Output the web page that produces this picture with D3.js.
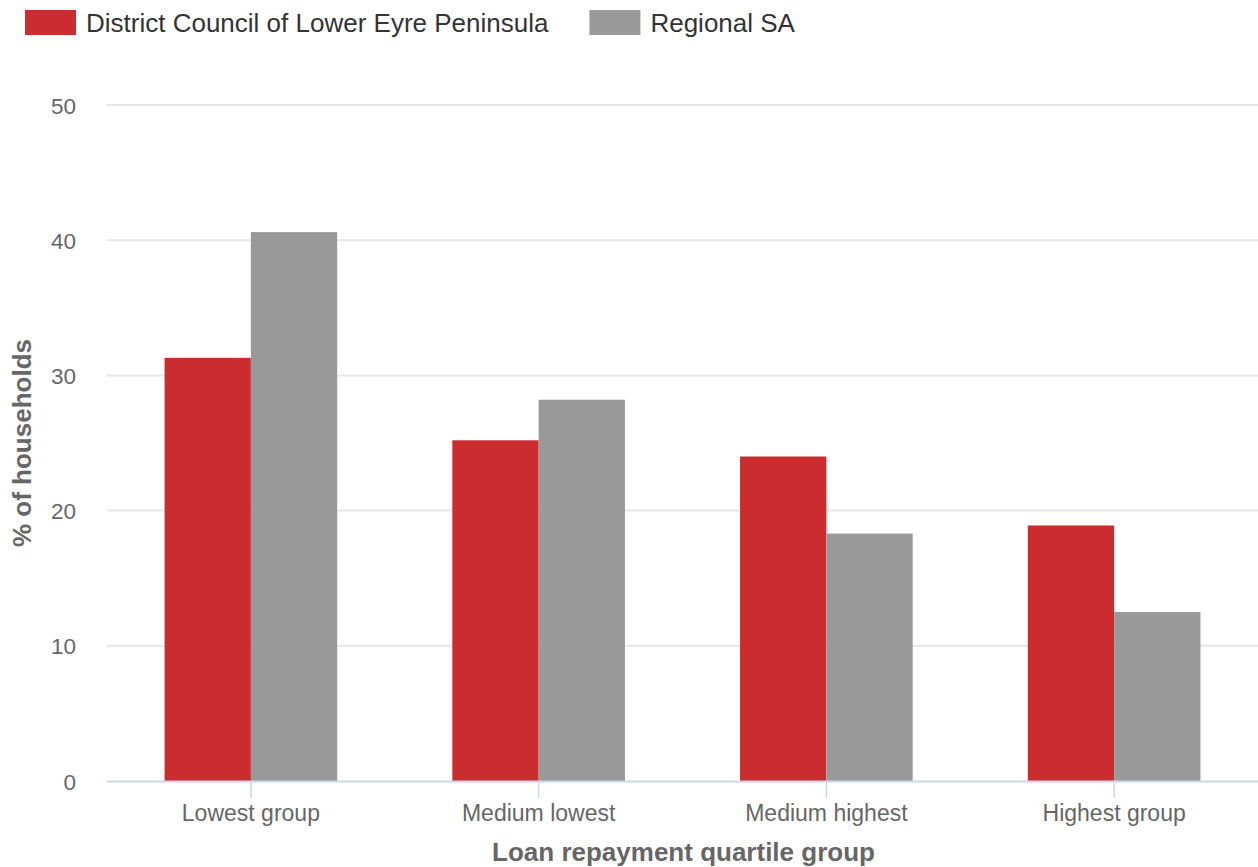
<!DOCTYPE html>
<html>
<head>
<meta charset="utf-8">
<script src="https://cdn.jsdelivr.net/npm/d3@7"></script>
<style>
  html, body { margin: 0; padding: 0; background: #ffffff; }
  svg { display: block; font-family: "Liberation Sans", Arial, sans-serif; }
</style>
</head>
<body>
<svg id="chart" width="1258" height="867"></svg>
<script>
// ---- Data ----
const categories = ["Lowest group", "Medium lowest", "Medium highest", "Highest group"];
const seriesNames = ["District Council of Lower Eyre Peninsula", "Regional SA"];
const districtValues = [31.3, 25.2, 24.0, 18.9];
const regionalValues = [40.6, 28.2, 18.3, 12.5];
const yTicks = [0, 10, 20, 30, 40, 50];
const xTitle = "Loan repayment quartile group";
const yTitle = "% of households";
const colors = ["#cb2c30", "#999999"];

const series = [districtValues, regionalValues];

// ---- Layout ----
const plot = { left: 107, right: 1258, top: 105, bottom: 781 };

const svg = d3.select("#chart");

const x0 = d3.scaleBand()
  .domain(categories)
  .range([plot.left, plot.right])
  .paddingInner(0.4)
  .paddingOuter(0.2);

const x1 = d3.scaleBand()
  .domain(d3.range(series.length))
  .range([0, x0.bandwidth()]);

const y = d3.scaleLinear()
  .domain([0, 50])
  .range([plot.bottom, plot.top]);

// Gridlines
svg.append("g")
  .selectAll("line")
  .data(yTicks.filter(t => t !== 0))
  .join("line")
  .attr("x1", plot.left)
  .attr("x2", plot.right)
  .attr("y1", d => y(d))
  .attr("y2", d => y(d))
  .attr("stroke", "#e6e6e6")
  .attr("stroke-width", 2);

// Y axis labels
const yAxis = d3.axisLeft(y).tickValues(yTicks).tickSize(0).tickPadding(0);
const yg = svg.append("g")
  .attr("transform", `translate(76,0)`)
  .call(yAxis);
yg.select(".domain").remove();
yg.selectAll("text")
  .attr("fill", "#666666")
  .attr("font-size", 22.5)
  .attr("font-family", "'Liberation Sans', Arial, sans-serif")
  .attr("dy", "0.36em");

// Bars
const groups = svg.append("g")
  .selectAll("g")
  .data(categories)
  .join("g")
  .attr("transform", d => `translate(${x0(d)},0)`);

groups.selectAll("rect")
  .data((c, i) => series.map((s, si) => ({ si, v: s[i] })))
  .join("rect")
  .attr("x", d => x1(d.si))
  .attr("width", x1.bandwidth())
  .attr("y", d => y(d.v))
  .attr("height", d => y(0) - y(d.v))
  .attr("fill", d => colors[d.si]);

// X axis
const xAxis = d3.axisBottom(x0).tickSize(17).tickPadding(7);
const xg = svg.append("g")
  .attr("transform", `translate(0,${plot.bottom})`)
  .call(xAxis);
xg.select(".domain").remove();
xg.selectAll(".tick line").attr("stroke", "#ccd6eb").attr("stroke-width", 1.5);
xg.selectAll("text")
  .attr("fill", "#666666")
  .attr("font-size", 23)
  .attr("font-family", "'Liberation Sans', Arial, sans-serif");
svg.append("line")
  .attr("x1", plot.left).attr("x2", plot.right)
  .attr("y1", plot.bottom + 0.5).attr("y2", plot.bottom + 0.5)
  .attr("stroke", "#ccd6eb").attr("stroke-width", 2);

// Axis titles
svg.append("text")
  .attr("x", (plot.left + plot.right) / 2 + 1)
  .attr("y", 861)
  .attr("text-anchor", "middle")
  .attr("fill", "#666666")
  .attr("font-size", 26)
  .attr("font-weight", "bold")
  .text(xTitle);

svg.append("text")
  .attr("transform", `translate(31,${(plot.top + plot.bottom) / 2}) rotate(-90)`)
  .attr("text-anchor", "middle")
  .attr("fill", "#666666")
  .attr("font-size", 26)
  .attr("font-weight", "bold")
  .text(yTitle);

// Legend
const legend = svg.append("g");
let lx = 25;
seriesNames.forEach((name, i) => {
  legend.append("rect")
    .attr("x", lx).attr("y", 10)
    .attr("width", 51).attr("height", 25)
    .attr("fill", colors[i]);
  const t = legend.append("text")
    .attr("x", lx + 61).attr("y", 32)
    .attr("fill", "#333333")
    .attr("font-size", 26)
    .text(name);
  lx = lx + 61 + t.node().getComputedTextLength() + 41;
});
</script>
</body>
</html>
